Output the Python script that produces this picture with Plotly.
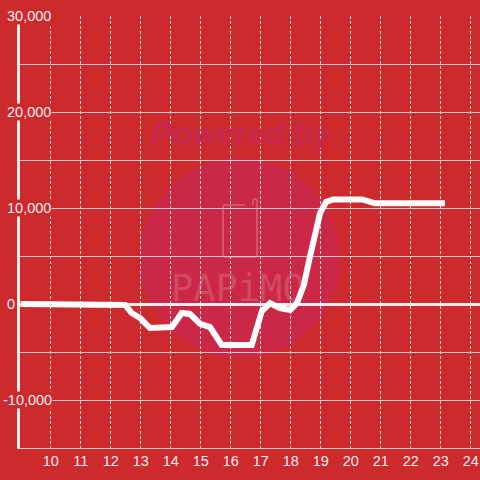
import plotly.graph_objects as go

# data (hour, value)
hours = [9.0, 12.31, 12.48, 12.7, 12.98, 13.31, 13.64, 14.04, 14.37, 14.64, 14.98, 15.31,
         15.7, 16.7, 17.04, 17.31, 17.64, 17.98, 18.21, 18.44, 18.64, 18.81, 18.98,
         19.18, 19.41, 20.38, 20.81, 23.14]
values = [0, 0, -100, -940, -1460, -2500, -2400, -2400, -940, -1040, -2080, -2400,
          -4270, -4270, -730, 100, -420, -620, 100, 1980, 4900, 7500, 9480,
          10630, 10890, 10890, 10490, 10490]

x_ticks = list(range(10, 25))
y_label_vals = [30000, 20000, 10000, 0, -10000]
y_label_text = ["30,000", "20,000", "10,000", "0", "-10,000"]

BG = "#cd2a2e"
FONT = "Liberation Sans, Arial, sans-serif"
W, H = 480, 480
ML, MR, MT, MB = 20, 0, 16, 32
PW, PH = W - ML - MR, H - MT - MB

def px_x(p):
    return (p - ML) / PW

def px_y(p):
    return (H - MB - p) / PH

fig = go.Figure()
fig.add_trace(go.Scatter(x=hours, y=values, mode="lines",
                         line=dict(color="white", width=6), hoverinfo="skip",
                         showlegend=False))

shapes = [
    dict(type="circle", xref="paper", yref="paper", layer="below",
         x0=px_x(140), x1=px_x(340), y0=px_y(358), y1=px_y(158),
         fillcolor="#cb2847", line=dict(width=0)),
    dict(type="path", xref="paper", yref="paper", layer="below",
         path=(f"M {px_x(245)} {px_y(205)} L {px_x(225)} {px_y(205)} "
               f"Q {px_x(223)} {px_y(205)} {px_x(223)} {px_y(207)} "
               f"L {px_x(223)} {px_y(255)} Q {px_x(223)} {px_y(257)} {px_x(225)} {px_y(257)} "
               f"L {px_x(255)} {px_y(257)} Q {px_x(257)} {px_y(257)} {px_x(257)} {px_y(255)} "
               f"L {px_x(257)} {px_y(201)} Q {px_x(257)} {px_y(199)} {px_x(255)} {px_y(199)} "
               f"Q {px_x(253)} {px_y(199)} {px_x(253)} {px_y(201)} L {px_x(253)} {px_y(205)}"),
         line=dict(color="rgba(255,255,255,0.2)", width=2)),
]

annotations = [
    dict(text="<b><i>Powered by</i></b>", xref="paper", yref="paper",
         x=px_x(242), y=px_y(134), xanchor="center", yanchor="middle",
         showarrow=False, font=dict(family=FONT, size=32, color="#c8284c")),
    dict(text="PAPiMO", xref="paper", yref="paper",
         x=px_x(238), y=px_y(288), xanchor="center", yanchor="middle",
         showarrow=False,
         font=dict(family="DejaVu Sans Mono, monospace", size=37,
                   color="rgba(255,255,255,0.17)")),
]

right_edges = [51.5, 51.5, 51.5, 16, 52.5]
for v, t, r in zip(y_label_vals, y_label_text, right_edges):
    annotations.append(dict(text=t, xref="paper", yref="y", x=0, y=v,
                            xshift=r - ML, xanchor="right", yanchor="middle",
                            showarrow=False, bgcolor=BG, borderpad=0,
                            font=dict(family=FONT, size=14.5, color="#eeeeee")))

fig.update_layout(
    width=W, height=H,
    margin=dict(l=ML, r=MR, t=MT, b=MB, autoexpand=False),
    paper_bgcolor=BG, plot_bgcolor=BG,
    shapes=shapes, annotations=annotations,
    showlegend=False,
    xaxis=dict(range=[8.977, 24.31], tickvals=x_ticks, ticks="", automargin=False,
               showgrid=True, gridcolor="#dddddd", gridwidth=1, griddash="3px,2px",
               showline=True, linecolor="#cccccc", linewidth=1,
               zeroline=False,
               tickfont=dict(family=FONT, size=14.5, color="#eeeeee")),
    yaxis=dict(range=[-15000, 30000], dtick=5000, showticklabels=False, ticks="",
               automargin=False,
               showgrid=True, gridcolor="#cccccc", gridwidth=1,
               zeroline=True, zerolinecolor="#eeeeee", zerolinewidth=3,
               showline=True, linecolor="#eeeeee", linewidth=3),
)

fig.write_html("out.html", config={"displayModeBar": False},
               post_script="document.body.style.margin='0';document.body.style.background='" + BG + "';")
